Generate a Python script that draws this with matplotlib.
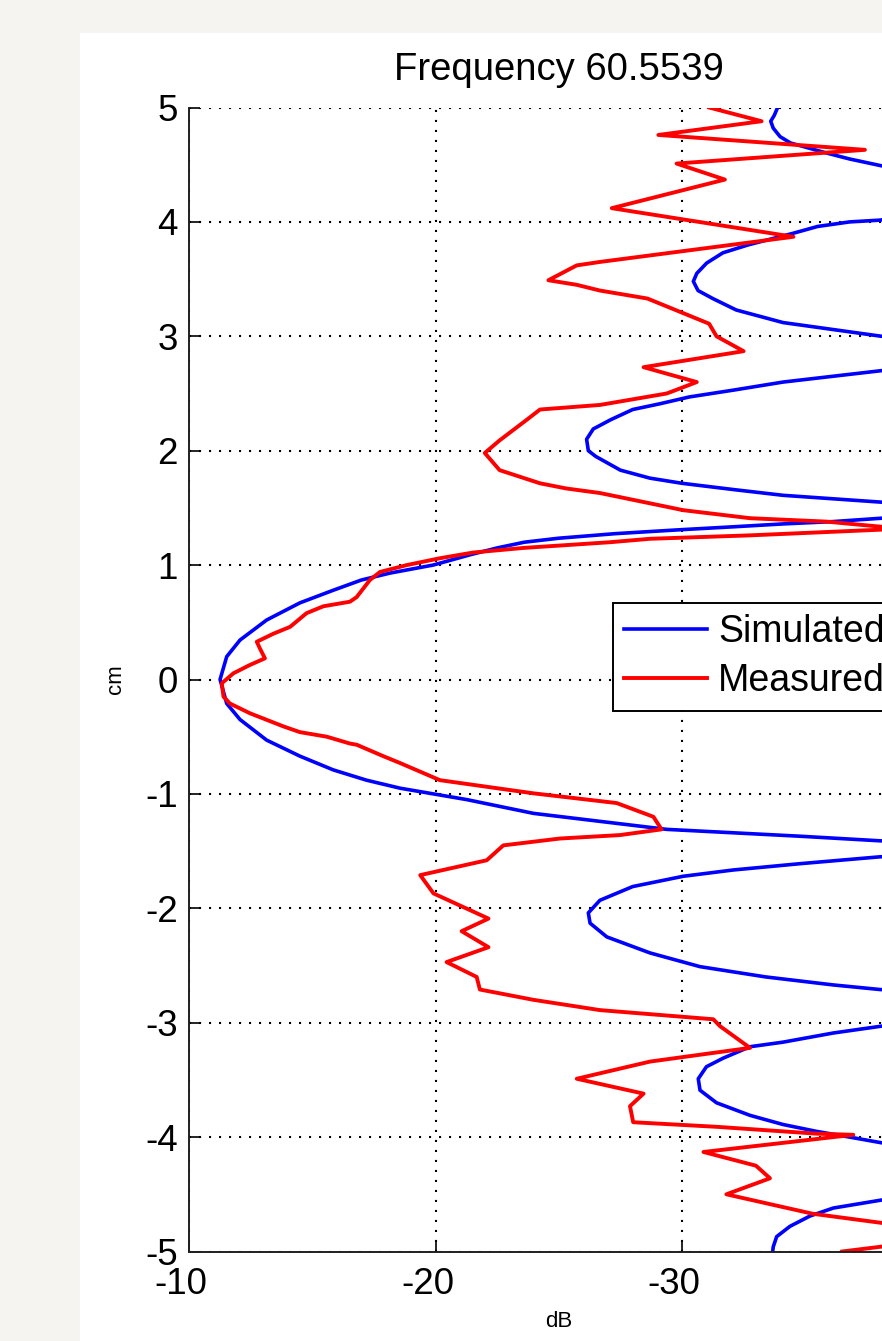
import matplotlib
matplotlib.use("Agg")
import matplotlib.pyplot as plt
import matplotlib.transforms as mtransforms
from matplotlib.patches import Rectangle

plt.rcParams['font.family'] = ['Liberation Sans', 'DejaVu Sans']

# ---- data ----
title_txt = "Frequency 60.5539"

# simulated beam profile : position (cm) / level (dB)
sim_cm = [5.00, 4.93, 4.88, 4.82, 4.745, 4.69, 4.66, 4.60, 4.55, 4.49, 4.27,
          4.015, 4.00, 3.96, 3.90, 3.80, 3.73, 3.64, 3.55, 3.48, 3.40, 3.33,
          3.23, 3.12, 3.06, 3.00, 2.86,
          2.70, 2.65, 2.60, 2.53, 2.47, 2.41, 2.36, 2.27, 2.19, 2.10, 2.00,
          1.95, 1.83, 1.76, 1.715, 1.66, 1.61, 1.58, 1.55, 1.48,
          1.41, 1.38, 1.36, 1.335, 1.31, 1.275, 1.235, 1.20, 1.15, 1.09, 1.00,
          0.93, 0.87, 0.78, 0.67, 0.52, 0.345, 0.20, 0.00, -0.21, -0.35, -0.53,
          -0.67, -0.79, -0.88, -0.95, -1.05, -1.17, -1.24, -1.31, -1.34, -1.37,
          -1.41, -1.47,
          -1.55, -1.61, -1.665, -1.72, -1.81, -1.93, -2.04, -2.13, -2.25, -2.39,
          -2.51, -2.60, -2.67, -2.71, -2.87,
          -3.03, -3.09, -3.17, -3.21, -3.31, -3.385, -3.49, -3.59, -3.70, -3.81,
          -3.89, -3.95, -4.00, -4.05, -4.30,
          -4.55, -4.62, -4.69, -4.78, -4.87, -4.96, -5.00]
sim_db = [-33.88, -33.74, -33.60, -33.70, -33.98, -34.40, -34.90, -35.90, -36.80, -38.10, -48.0,
          -38.00, -36.80, -35.50, -34.50, -32.70, -31.66, -31.00, -30.60, -30.46, -30.65, -31.25,
          -32.20, -34.10, -36.10, -38.10, -50.0,
          -38.10, -36.10, -34.10, -32.10, -30.30, -29.10, -28.00, -27.10, -26.40, -26.13, -26.20,
          -26.50, -27.50, -28.70, -30.00, -32.10, -34.10, -36.10, -38.10, -50.0,
          -38.10, -36.10, -34.10, -32.10, -30.00, -27.30, -25.00, -23.60, -22.50, -21.40, -19.90,
          -18.15, -17.00, -15.85, -14.50, -13.15, -12.07, -11.53, -11.26, -11.53, -12.07, -13.15,
          -14.50, -15.85, -17.20, -18.56, -21.27, -23.97, -26.67, -29.38, -32.08, -34.79,
          -38.03, -50.0,
          -38.03, -34.79, -32.08, -30.05, -28.00, -26.67, -26.20, -26.27, -26.95, -28.70,
          -30.73, -33.40, -36.14, -38.03, -50.0,
          -38.10, -36.14, -34.10, -32.76, -31.67, -30.99, -30.66, -30.73, -31.40, -32.76,
          -34.10, -35.46, -36.80, -38.10, -48.0,
          -38.10, -36.14, -35.19, -34.38, -33.84, -33.70, -33.68]

# measured profile
meas_cm = [5.00, 4.88, 4.76, 4.63, 4.51, 4.37, 4.12, 3.87, 3.65, 3.62, 3.49, 3.45,
           3.40, 3.33, 3.11, 3.00, 2.87, 2.73, 2.60, 2.50, 2.40, 2.36, 2.27, 2.09,
           1.98, 1.83, 1.715, 1.67, 1.63, 1.60, 1.48, 1.41, 1.38, 1.335, 1.32, 1.31,
           1.26, 1.23, 1.20, 1.15, 1.11, 1.06, 1.00, 0.94, 0.87, 0.72, 0.68, 0.64,
           0.58, 0.46, 0.40, 0.33, 0.27, 0.185, 0.127, 0.054, -0.033, -0.15, -0.21,
           -0.295, -0.41, -0.46, -0.50, -0.56, -0.57, -0.67, -0.73, -0.88, -0.995,
           -1.08, -1.20, -1.31, -1.36, -1.39, -1.45, -1.58, -1.71, -1.87, -2.09,
           -2.20, -2.34, -2.47, -2.60, -2.71, -2.80, -2.89, -2.97, -3.03, -3.22,
           -3.34, -3.49, -3.62, -3.73, -3.87, -3.91, -3.97, -3.98, -4.13, -4.25,
           -4.36, -4.50, -4.67, -4.75, -4.88, -5.00]
meas_db = [-31.10, -33.23, -29.04, -37.42, -29.78, -31.74, -27.15, -34.52, -26.67, -25.73, -24.58, -25.73,
           -26.67, -28.60, -31.10, -31.40, -32.50, -28.44, -30.60, -29.38, -26.67, -24.24, -23.70, -22.60,
           -22.00, -22.60, -24.24, -25.30, -26.67, -27.35, -30.05, -32.76, -35.87, -38.10, -40.50, -38.10,
           -32.76, -28.70, -27.08, -23.56, -21.53, -20.18, -18.83, -17.75, -17.34, -16.80, -16.53, -15.45,
           -14.77, -14.10, -13.42, -12.75, -12.88, -13.08, -12.47, -11.80, -11.33, -11.40, -11.66,
           -12.47, -13.83, -14.50, -15.59, -16.53, -16.80, -17.88, -18.56, -20.18, -23.97,
           -27.35, -28.84, -29.17, -27.48, -25.05, -22.75, -22.08, -19.38, -19.92, -22.15,
           -21.06, -22.15, -20.45, -21.67, -21.80, -23.97, -26.67, -31.27, -31.54, -32.76,
           -28.70, -25.73, -28.44, -27.89, -28.02, -31.40, -35.46, -36.95, -30.87, -33.00,
           -33.57, -31.80, -35.30, -38.10, -41.00, -36.50]

xticks = [-10, -20, -30, -40]
yticks = [-5, -4, -3, -2, -1, 0, 1, 2, 3, 4, 5]

# ---- figure ----
W, H = 882, 1341
fig = plt.figure(figsize=(W / 100, H / 100), dpi=100, facecolor='#f5f4f0')
fig.add_artist(Rectangle((80 / W, 0), 1, 1 - 33 / H, transform=fig.transFigure,
                         facecolor='white', edgecolor='none', zorder=0))

# axes run past the right edge of the picture (cropped screenshot)
ax = fig.add_axes([189 / W, 89.5 / H, 739.5 / W, 1144 / H])
ax.set_facecolor('white')

ax.plot(sim_db, sim_cm, color='#0000ff', lw=2.6, label='Simulated')
ax.plot(meas_db, meas_cm, color='#ff0000', lw=2.8, label='Measured')

ax.set_xlim(-10, -40)
ax.set_ylim(-5, 5)
ax.set_xticks(xticks)
ax.set_yticks(yticks)
ax.set_xticklabels([str(v) for v in xticks])
ax.set_yticklabels([str(v) for v in yticks])

ax.grid(True, color='k', lw=1.5, ls=(0, (1, 3.8)))
for s in ['top', 'right']:
    ax.spines[s].set_visible(False)
for s in ['left', 'bottom']:
    ax.spines[s].set_linewidth(1.4)
    ax.spines[s].set_color('#202020')
ax.tick_params(direction='in', length=8, width=1.2, labelsize=26.5, pad=8, colors='k')
ax.tick_params(axis='x', pad=11)

# matlab style: x labels sit a bit left of their ticks
shift = mtransforms.ScaledTranslation(-8 / 100, 0, fig.dpi_scale_trans)
for lbl in ax.get_xticklabels():
    lbl.set_transform(lbl.get_transform() + shift)

ax.set_title(title_txt, fontsize=27.5, pad=20)
ax.set_xlabel('dB', fontsize=16)
ax.set_ylabel('cm', fontsize=16)
ax.xaxis.set_label_coords(0.5, -0.052)
ax.yaxis.set_label_coords(-0.085, 0.5)

leg = ax.legend(loc='upper left', bbox_to_anchor=(0.5734, 0.5669), fontsize=27,
                frameon=True, fancybox=False, edgecolor='k', framealpha=1,
                borderaxespad=0, handlelength=2.2, handletextpad=0.3,
                borderpad=0.3, labelspacing=0.35)
leg.get_frame().set_linewidth(1.4)

fig.savefig('out.png', dpi=100, facecolor=fig.get_facecolor())
